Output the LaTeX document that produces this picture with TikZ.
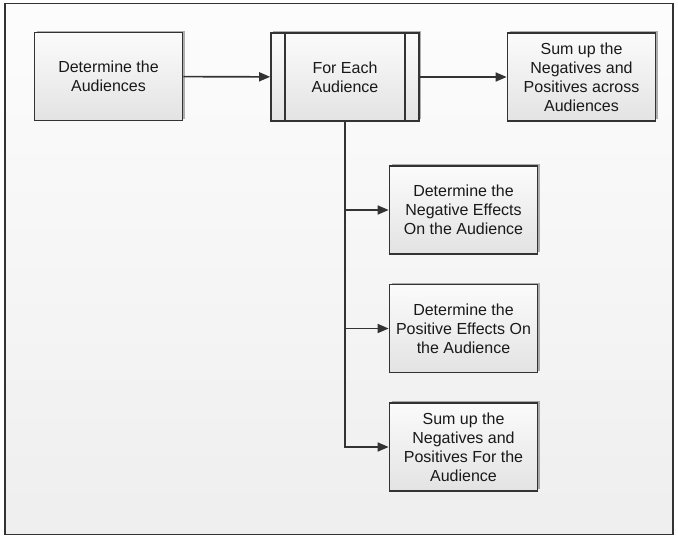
\documentclass[tikz,border=0pt]{standalone}
\usepackage{fontspec}
\setmainfont{Liberation Sans}
\usetikzlibrary{arrows.meta,shadows}
\begin{document}
\begin{tikzpicture}[x=1pt,y=-1pt,
  box/.style={draw=black!80, line width=1.7pt, top color=gray!3, bottom color=gray!22,
    minimum width=148pt, minimum height=88pt, inner sep=0pt, align=center,
    font=\fontsize{16}{19}\selectfont, text=black!90,
    drop shadow={shadow xshift=2pt, shadow yshift=2pt, opacity=0.3, fill=black}},
  conn/.style={draw=black!80, line width=1.6pt, -{Triangle[length=11pt,width=9pt]}},
  plain/.style={draw=black!80, line width=1.6pt}]
\useasboundingbox (0,0) rectangle (678,538);
\node[draw=black!80, line width=1.6pt, top color=gray!2, bottom color=gray!13,
  minimum width=668pt, minimum height=531pt, inner sep=0pt] (frame) at (339,269) {};
\node[box] (aud) at (108.5,76.5) {Determine the\\Audiences};
\node[box] (each) at (345,77) {For Each\\Audience};
\draw[plain] ([xshift=15pt]each.north west) -- ([xshift=15pt]each.south west);
\draw[plain] ([xshift=-15pt]each.north east) -- ([xshift=-15pt]each.south east);
\node[box] (sumall) at (581.5,77) {Sum up the\\Negatives and\\Positives across\\Audiences};
\node[box] (neg) at (463.5,210) {Determine the\\Negative Effects\\On the Audience};
\node[box] (pos) at (463.5,328.5) {Determine the\\Positive Effects On\\the Audience};
\node[box] (sumone) at (463.5,447) {Sum up the\\Negatives and\\Positives For the\\Audience};
\draw[conn] (aud) -- (each);
\draw[conn] (each) -- (sumall);
\draw[conn] (each.south) |- (sumone.west);
\draw[conn] (each.south |- neg.west) -- (neg.west);
\draw[conn] (each.south |- pos.west) -- (pos.west);
\end{tikzpicture}
\end{document}
